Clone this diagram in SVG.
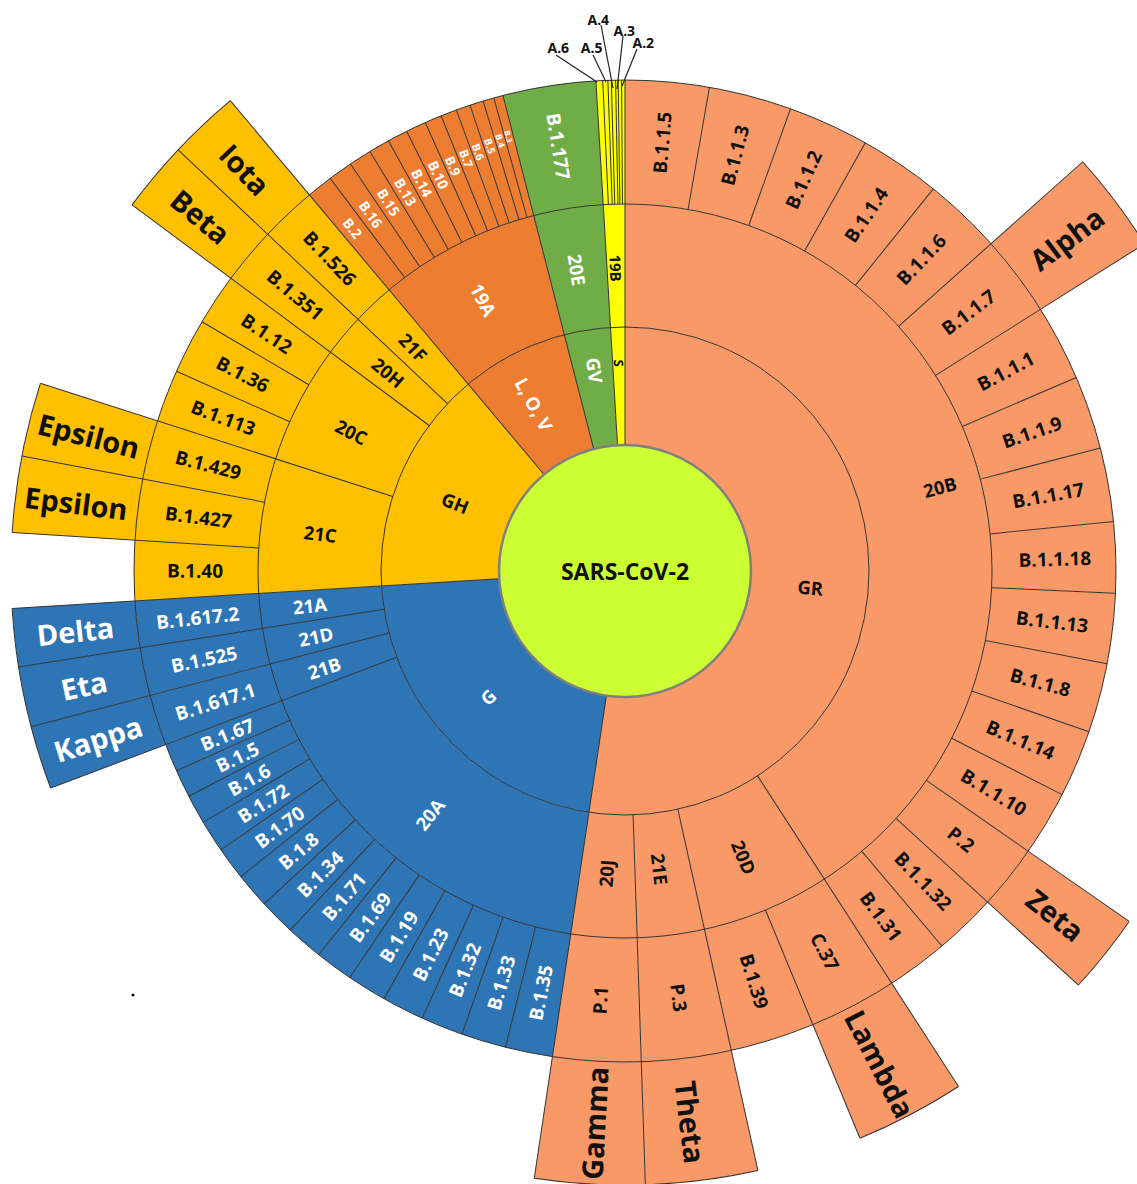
<svg xmlns="http://www.w3.org/2000/svg" width="1137" height="1184" viewBox="0 0 1137 1184">
<style>
.r1{fill:none;stroke-width:118}
.r2{fill:none;stroke-width:123}
.r3{fill:none;stroke-width:124}
.r4{fill:none;stroke-width:123}
.gr{stroke:#F89967}
.g{stroke:#2E75B6}
.gh{stroke:#FFC000}
.lov{stroke:#ED7D31}
.gv{stroke:#70AD47}
.s{stroke:#FFFF00}
.t{font-family:"Open Sans","Noto Sans","DejaVu Sans",sans-serif;font-weight:700;text-anchor:middle;dominant-baseline:central}
.k{fill:#111}
.w{fill:#fff}
.z1{font-size:18.5px}
.z3{font-size:19px}
.z4{font-size:29px}
.bd use,.bd line{stroke:#333;stroke-width:1}
.bd circle{fill:none;stroke:#333;stroke-width:1}
.ld line{stroke:#222;stroke-width:1.2}
</style>
<defs>
<line id="l1" x1="0" y1="-126" x2="0" y2="-491"/>
<line id="l1o" x1="0" y1="-126" x2="0" y2="-614"/>
<line id="l2o" x1="0" y1="-244" x2="0" y2="-614"/>
<line id="l3o" x1="0" y1="-367" x2="0" y2="-614"/>
<line id="l3" x1="0" y1="-367" x2="0" y2="-491"/>
</defs>
<rect width="1137" height="1184" fill="#fff"/>
<g transform="translate(625 571)">
<g id="ring1">
<g id="node-GR"><circle class="r1 gr" r="185" pathLength="360" stroke-dasharray="188.5 400" transform="rotate(-90)"/><text class="t k z1" transform="rotate(95) translate(0 -186) rotate(-90)">GR</text></g>
<g id="node-G"><circle class="r1 g" r="185" pathLength="360" stroke-dasharray="78 400" transform="rotate(98.5)"/><text class="t w z1" transform="rotate(227.5) translate(0 -186) rotate(90)">G</text></g>
<g id="node-GH"><circle class="r1 gh" r="185" pathLength="360" stroke-dasharray="53.5 400" transform="rotate(176.5)"/><text class="t k z1" transform="rotate(292) translate(0 -183) rotate(90)">GH</text></g>
<g id="node-LOV"><circle class="r1 lov" r="185" pathLength="360" stroke-dasharray="25.6 400" transform="rotate(230)"/><text class="t w z1" transform="rotate(331.5) translate(0 -190) rotate(90)">L, O, V</text></g>
<g id="node-GV"><circle class="r1 gv" r="185" pathLength="360" stroke-dasharray="11 400" transform="rotate(255.6)"/><text class="t w z1" transform="rotate(351.5) translate(0 -203) rotate(90)">GV</text></g>
<g id="node-S"><circle class="r1 s" r="185" pathLength="360" stroke-dasharray="3.4 400" transform="rotate(266.6)"/><text class="t k" style="font-size:13px" transform="rotate(358.3) translate(0 -208) rotate(90)">S</text></g>
</g>
<g id="ring2">
<g id="node-20B"><circle class="r2 gr" r="305.5" pathLength="360" stroke-dasharray="147.1 400" transform="rotate(-90)"/><text class="t k z1" transform="rotate(75) translate(0 -326) rotate(-90)">20B</text></g>
<g id="node-20D"><circle class="r2 gr" r="305.5" pathLength="360" stroke-dasharray="20.4 400" transform="rotate(57.1)"/><text class="t k z1" transform="rotate(157.4) translate(0 -310) rotate(-90)">20D</text></g>
<g id="node-21E"><circle class="r2 gr" r="305.5" pathLength="360" stroke-dasharray="10.6 400" transform="rotate(77.5)"/><text class="t k z1" transform="rotate(173.3) translate(0 -300) rotate(-90)">21E</text></g>
<g id="node-20J"><circle class="r2 gr" r="305.5" pathLength="360" stroke-dasharray="10.4 400" transform="rotate(88.1)"/><text class="t k z1" transform="rotate(183.6) translate(0 -303) rotate(90)">20J</text></g>
<g id="node-20A"><circle class="r2 g" r="305.5" pathLength="360" stroke-dasharray="60.8 400" transform="rotate(98.5)"/><text class="t w z1" transform="rotate(218.8) translate(0 -312) rotate(90)">20A</text></g>
<g id="node-21B"><circle class="r2 g" r="305.5" pathLength="360" stroke-dasharray="6 400" transform="rotate(159.3)"/><text class="t w z1" transform="rotate(252.2) translate(0 -316) rotate(90)">21B</text></g>
<g id="node-21D"><circle class="r2 g" r="305.5" pathLength="360" stroke-dasharray="5.7 400" transform="rotate(165.3)"/><text class="t w z1" transform="rotate(258.1) translate(0 -316) rotate(90)">21D</text></g>
<g id="node-21A"><circle class="r2 g" r="305.5" pathLength="360" stroke-dasharray="5.5 400" transform="rotate(171)"/><text class="t w z1" transform="rotate(263.8) translate(0 -317) rotate(90)">21A</text></g>
<g id="node-21C"><circle class="r2 gh" r="305.5" pathLength="360" stroke-dasharray="21.3 400" transform="rotate(176.5)"/><text class="t k z1" transform="rotate(277) translate(0 -307) rotate(90)">21C</text></g>
<g id="node-20C"><circle class="r2 gh" r="305.5" pathLength="360" stroke-dasharray="18.8 400" transform="rotate(197.8)"/><text class="t k z1" transform="rotate(297) translate(0 -307) rotate(90)">20C</text></g>
<g id="node-20H"><circle class="r2 gh" r="305.5" pathLength="360" stroke-dasharray="6.7 400" transform="rotate(216.6)"/><text class="t k z1" transform="rotate(310) translate(0 -309) rotate(90)">20H</text></g>
<g id="node-21F"><circle class="r2 gh" r="305.5" pathLength="360" stroke-dasharray="6.7 400" transform="rotate(223.3)"/><text class="t k z1" transform="rotate(316.6) translate(0 -308) rotate(90)">21F</text></g>
<g id="node-19A"><circle class="r2 lov" r="305.5" pathLength="360" stroke-dasharray="25.6 400" transform="rotate(230)"/><text class="t w z1" transform="rotate(332.5) translate(0 -306) rotate(90)">19A</text></g>
<g id="node-20E"><circle class="r2 gv" r="305.5" pathLength="360" stroke-dasharray="11 400" transform="rotate(255.6)"/><text class="t w z1" transform="rotate(351) translate(0 -305) rotate(90)">20E</text></g>
<g id="node-19B"><circle class="r2 s" r="305.5" pathLength="360" stroke-dasharray="3.4 400" transform="rotate(266.6)"/><text class="t k" style="font-size:15px" transform="rotate(358.3) translate(0 -303) rotate(90)">19B</text></g>
</g>
<g id="ring3">
<g id="node-B.1.1.5"><circle class="r3 gr" r="429" pathLength="360" stroke-dasharray="9.9 400" transform="rotate(-90)"/><text class="t k z3" transform="rotate(4.95) translate(0 -430) rotate(-90)">B.1.1.5</text></g>
<g id="node-B.1.1.3"><circle class="r3 gr" r="429" pathLength="360" stroke-dasharray="9.8 400" transform="rotate(-80.1)"/><text class="t k z3" transform="rotate(14.8) translate(0 -430) rotate(-90)">B.1.1.3</text></g>
<g id="node-B.1.1.2"><circle class="r3 gr" r="429" pathLength="360" stroke-dasharray="9.6 400" transform="rotate(-70.3)"/><text class="t k z3" transform="rotate(24.5) translate(0 -430) rotate(-90)">B.1.1.2</text></g>
<g id="node-B.1.1.4"><circle class="r3 gr" r="429" pathLength="360" stroke-dasharray="9.6 400" transform="rotate(-60.7)"/><text class="t k z3" transform="rotate(34.1) translate(0 -430) rotate(-90)">B.1.1.4</text></g>
<g id="node-B.1.1.6"><circle class="r3 gr" r="429" pathLength="360" stroke-dasharray="9.3 400" transform="rotate(-51.1)"/><text class="t k z3" transform="rotate(43.55) translate(0 -430) rotate(-90)">B.1.1.6</text></g>
<g id="node-B.1.1.7"><circle class="r3 gr" r="429" pathLength="360" stroke-dasharray="9.6 400" transform="rotate(-41.8)"/><text class="t k z3" transform="rotate(53) translate(0 -430) rotate(-90)">B.1.1.7</text></g>
<g id="node-B.1.1.1"><circle class="r3 gr" r="429" pathLength="360" stroke-dasharray="9 400" transform="rotate(-32.2)"/><text class="t k z3" transform="rotate(62.3) translate(0 -430) rotate(-90)">B.1.1.1</text></g>
<g id="node-B.1.1.9"><circle class="r3 gr" r="429" pathLength="360" stroke-dasharray="8.7 400" transform="rotate(-23.2)"/><text class="t k z3" transform="rotate(71.15) translate(0 -430) rotate(-90)">B.1.1.9</text></g>
<g id="node-B.1.1.17"><circle class="r3 gr" r="429" pathLength="360" stroke-dasharray="8.7 400" transform="rotate(-14.5)"/><text class="t k z3" transform="rotate(79.85) translate(0 -430) rotate(-90)">B.1.1.17</text></g>
<g id="node-B.1.1.18"><circle class="r3 gr" r="429" pathLength="360" stroke-dasharray="8.4 400" transform="rotate(-5.8)"/><text class="t k z3" transform="rotate(88.4) translate(0 -430) rotate(-90)">B.1.1.18</text></g>
<g id="node-B.1.1.13"><circle class="r3 gr" r="429" pathLength="360" stroke-dasharray="8.3 400" transform="rotate(2.6)"/><text class="t k z3" transform="rotate(96.75) translate(0 -430) rotate(-90)">B.1.1.13</text></g>
<g id="node-B.1.1.8"><circle class="r3 gr" r="429" pathLength="360" stroke-dasharray="8.2 400" transform="rotate(10.9)"/><text class="t k z3" transform="rotate(105) translate(0 -430) rotate(-90)">B.1.1.8</text></g>
<g id="node-B.1.1.14"><circle class="r3 gr" r="429" pathLength="360" stroke-dasharray="8 400" transform="rotate(19.1)"/><text class="t k z3" transform="rotate(113.1) translate(0 -430) rotate(-90)">B.1.1.14</text></g>
<g id="node-B.1.1.10"><circle class="r3 gr" r="429" pathLength="360" stroke-dasharray="7.7 400" transform="rotate(27.1)"/><text class="t k z3" transform="rotate(120.95) translate(0 -430) rotate(-90)">B.1.1.10</text></g>
<g id="node-P.2"><circle class="r3 gr" r="429" pathLength="360" stroke-dasharray="7.6 400" transform="rotate(34.8)"/><text class="t k z3" transform="rotate(128.6) translate(0 -430) rotate(-90)">P.2</text></g>
<g id="node-B.1.1.32"><circle class="r3 gr" r="429" pathLength="360" stroke-dasharray="7.4 400" transform="rotate(42.4)"/><text class="t k z3" transform="rotate(136.1) translate(0 -430) rotate(-90)">B.1.1.32</text></g>
<g id="node-B.1.31"><circle class="r3 gr" r="429" pathLength="360" stroke-dasharray="7.3 400" transform="rotate(49.8)"/><text class="t k z3" transform="rotate(143.45) translate(0 -430) rotate(-90)">B.1.31</text></g>
<g id="node-C.37"><circle class="r3 gr" r="429" pathLength="360" stroke-dasharray="10.4 400" transform="rotate(57.1)"/><text class="t k z3" transform="rotate(152.3) translate(0 -430) rotate(-90)">C.37</text></g>
<g id="node-B.1.39"><circle class="r3 gr" r="429" pathLength="360" stroke-dasharray="10 400" transform="rotate(67.5)"/><text class="t k z3" transform="rotate(162.5) translate(0 -430) rotate(-90)">B.1.39</text></g>
<g id="node-P.3"><circle class="r3 gr" r="429" pathLength="360" stroke-dasharray="10.6 400" transform="rotate(77.5)"/><text class="t k z3" transform="rotate(172.8) translate(0 -430) rotate(-90)">P.3</text></g>
<g id="node-P.1"><circle class="r3 gr" r="429" pathLength="360" stroke-dasharray="10.4 400" transform="rotate(88.1)"/><text class="t k z3" transform="rotate(183.3) translate(0 -430) rotate(90)">P.1</text></g>
<g id="node-B.1.35"><circle class="r3 g" r="429" pathLength="360" stroke-dasharray="5.6 400" transform="rotate(98.5)"/><text class="t w z3" transform="rotate(191.3) translate(0 -430) rotate(90)">B.1.35</text></g>
<g id="node-B.1.33"><circle class="r3 g" r="429" pathLength="360" stroke-dasharray="5.3 400" transform="rotate(104.1)"/><text class="t w z3" transform="rotate(196.75) translate(0 -430) rotate(90)">B.1.33</text></g>
<g id="node-B.1.32"><circle class="r3 g" r="429" pathLength="360" stroke-dasharray="5 400" transform="rotate(109.4)"/><text class="t w z3" transform="rotate(201.9) translate(0 -430) rotate(90)">B.1.32</text></g>
<g id="node-B.1.23"><circle class="r3 g" r="429" pathLength="360" stroke-dasharray="5 400" transform="rotate(114.4)"/><text class="t w z3" transform="rotate(206.9) translate(0 -430) rotate(90)">B.1.23</text></g>
<g id="node-B.1.19"><circle class="r3 g" r="429" pathLength="360" stroke-dasharray="4.7 400" transform="rotate(119.4)"/><text class="t w z3" transform="rotate(211.75) translate(0 -430) rotate(90)">B.1.19</text></g>
<g id="node-B.1.69"><circle class="r3 g" r="429" pathLength="360" stroke-dasharray="4.5 400" transform="rotate(124.1)"/><text class="t w z3" transform="rotate(216.35) translate(0 -430) rotate(90)">B.1.69</text></g>
<g id="node-B.1.71"><circle class="r3 g" r="429" pathLength="360" stroke-dasharray="4.4 400" transform="rotate(128.6)"/><text class="t w z3" transform="rotate(220.8) translate(0 -430) rotate(90)">B.1.71</text></g>
<g id="node-B.1.34"><circle class="r3 g" r="429" pathLength="360" stroke-dasharray="4.3 400" transform="rotate(133)"/><text class="t w z3" transform="rotate(225.15) translate(0 -430) rotate(90)">B.1.34</text></g>
<g id="node-B.1.8"><circle class="r3 g" r="429" pathLength="360" stroke-dasharray="4.2 400" transform="rotate(137.3)"/><text class="t w z3" transform="rotate(229.4) translate(0 -430) rotate(90)">B.1.8</text></g>
<g id="node-B.1.70"><circle class="r3 g" r="429" pathLength="360" stroke-dasharray="3.9 400" transform="rotate(141.5)"/><text class="t w z3" transform="rotate(233.45) translate(0 -430) rotate(90)">B.1.70</text></g>
<g id="node-B.1.72"><circle class="r3 g" r="429" pathLength="360" stroke-dasharray="3.8 400" transform="rotate(145.4)"/><text class="t w z3" transform="rotate(237.3) translate(0 -430) rotate(90)">B.1.72</text></g>
<g id="node-B.1.6"><circle class="r3 g" r="429" pathLength="360" stroke-dasharray="3.5 400" transform="rotate(149.2)"/><text class="t w z3" transform="rotate(240.95) translate(0 -430) rotate(90)">B.1.6</text></g>
<g id="node-B.1.5"><circle class="r3 g" r="429" pathLength="360" stroke-dasharray="3.3 400" transform="rotate(152.7)"/><text class="t w z3" transform="rotate(244.35) translate(0 -430) rotate(90)">B.1.5</text></g>
<g id="node-B.1.67"><circle class="r3 g" r="429" pathLength="360" stroke-dasharray="3.3 400" transform="rotate(156)"/><text class="t w z3" transform="rotate(247.65) translate(0 -430) rotate(90)">B.1.67</text></g>
<g id="node-B.1.617.1"><circle class="r3 g" r="429" pathLength="360" stroke-dasharray="6 400" transform="rotate(159.3)"/><text class="t w z3" transform="rotate(252.3) translate(0 -430) rotate(90)">B.1.617.1</text></g>
<g id="node-B.1.525"><circle class="r3 g" r="429" pathLength="360" stroke-dasharray="5.7 400" transform="rotate(165.3)"/><text class="t w z3" transform="rotate(258.15) translate(0 -430) rotate(90)">B.1.525</text></g>
<g id="node-B.1.617.2"><circle class="r3 g" r="429" pathLength="360" stroke-dasharray="5.5 400" transform="rotate(171)"/><text class="t w z3" transform="rotate(263.75) translate(0 -430) rotate(90)">B.1.617.2</text></g>
<g id="node-B.1.40"><circle class="r3 gh" r="429" pathLength="360" stroke-dasharray="7.1 400" transform="rotate(176.5)"/><text class="t k z3" transform="rotate(270.05) translate(0 -430) rotate(90)">B.1.40</text></g>
<g id="node-B.1.427"><circle class="r3 gh" r="429" pathLength="360" stroke-dasharray="7.2 400" transform="rotate(183.6)"/><text class="t k z3" transform="rotate(277.2) translate(0 -430) rotate(90)">B.1.427</text></g>
<g id="node-B.1.429"><circle class="r3 gh" r="429" pathLength="360" stroke-dasharray="7 400" transform="rotate(190.8)"/><text class="t k z3" transform="rotate(284.3) translate(0 -430) rotate(90)">B.1.429</text></g>
<g id="node-B.1.113"><circle class="r3 gh" r="429" pathLength="360" stroke-dasharray="6.2 400" transform="rotate(197.8)"/><text class="t k z3" transform="rotate(290.9) translate(0 -430) rotate(90)">B.1.113</text></g>
<g id="node-B.1.36"><circle class="r3 gh" r="429" pathLength="360" stroke-dasharray="6.5 400" transform="rotate(204)"/><text class="t k z3" transform="rotate(297.25) translate(0 -430) rotate(90)">B.1.36</text></g>
<g id="node-B.1.12"><circle class="r3 gh" r="429" pathLength="360" stroke-dasharray="6.1 400" transform="rotate(210.5)"/><text class="t k z3" transform="rotate(303.55) translate(0 -430) rotate(90)">B.1.12</text></g>
<g id="node-B.1.351"><circle class="r3 gh" r="429" pathLength="360" stroke-dasharray="6.7 400" transform="rotate(216.6)"/><text class="t k z3" transform="rotate(309.95) translate(0 -430) rotate(90)">B.1.351</text></g>
<g id="node-B.1.526"><circle class="r3 gh" r="429" pathLength="360" stroke-dasharray="6.7 400" transform="rotate(223.3)"/><text class="t k z3" transform="rotate(316.65) translate(0 -430) rotate(90)">B.1.526</text></g>
<g id="node-B.2"><circle class="r3 lov" r="429" pathLength="360" stroke-dasharray="3.1 400" transform="rotate(230)"/><text class="t w" style="font-size:14px" transform="rotate(321.55) translate(0 -438) rotate(90)">B.2</text></g>
<g id="node-B.16"><circle class="r3 lov" r="429" pathLength="360" stroke-dasharray="2.9 400" transform="rotate(233.1)"/><text class="t w" style="font-size:14px" transform="rotate(324.55) translate(0 -438) rotate(90)">B.16</text></g>
<g id="node-B.15"><circle class="r3 lov" r="429" pathLength="360" stroke-dasharray="2.7 400" transform="rotate(236)"/><text class="t w" style="font-size:14px" transform="rotate(327.35) translate(0 -438) rotate(90)">B.15</text></g>
<g id="node-B.13"><circle class="r3 lov" r="429" pathLength="360" stroke-dasharray="2.5 400" transform="rotate(238.7)"/><text class="t w" style="font-size:14px" transform="rotate(329.95) translate(0 -438) rotate(90)">B.13</text></g>
<g id="node-B.14"><circle class="r3 lov" r="429" pathLength="360" stroke-dasharray="2.4 400" transform="rotate(241.2)"/><text class="t w" style="font-size:14px" transform="rotate(332.4) translate(0 -438) rotate(90)">B.14</text></g>
<g id="node-B.10"><circle class="r3 lov" r="429" pathLength="360" stroke-dasharray="2.4 400" transform="rotate(243.6)"/><text class="t w" style="font-size:14px" transform="rotate(334.8) translate(0 -438) rotate(90)">B.10</text></g>
<g id="node-B.9"><circle class="r3 lov" r="429" pathLength="360" stroke-dasharray="2 400" transform="rotate(246)"/><text class="t w" style="font-size:13px" transform="rotate(337) translate(0 -440) rotate(90)">B.9</text></g>
<g id="node-B.7"><circle class="r3 lov" r="429" pathLength="360" stroke-dasharray="1.9 400" transform="rotate(248)"/><text class="t w" style="font-size:12px" transform="rotate(338.95) translate(0 -442) rotate(90)">B.7</text></g>
<g id="node-B.6"><circle class="r3 lov" r="429" pathLength="360" stroke-dasharray="1.7 400" transform="rotate(249.9)"/><text class="t w" style="font-size:11px" transform="rotate(340.75) translate(0 -444) rotate(90)">B.6</text></g>
<g id="node-B.5"><circle class="r3 lov" r="429" pathLength="360" stroke-dasharray="1.6 400" transform="rotate(251.6)"/><text class="t w" style="font-size:10px" transform="rotate(342.4) translate(0 -446) rotate(90)">B.5</text></g>
<g id="node-B.4"><circle class="r3 lov" r="429" pathLength="360" stroke-dasharray="1.3 400" transform="rotate(253.2)"/><text class="t w" style="font-size:9px" transform="rotate(343.85) translate(0 -448) rotate(90)">B.4</text></g>
<g id="node-B.3"><circle class="r3 lov" r="429" pathLength="360" stroke-dasharray="1.1 400" transform="rotate(254.5)"/><text class="t w" style="font-size:8px" transform="rotate(345.05) translate(0 -450) rotate(90)">B.3</text></g>
<g id="node-B.1.177"><circle class="r3 gv" r="429" pathLength="360" stroke-dasharray="11 400" transform="rotate(255.6)"/><text class="t w z3" transform="rotate(351.1) translate(0 -430) rotate(90)">B.1.177</text></g>
<g id="node-A.6"><circle class="r3 s" r="429" pathLength="360" stroke-dasharray="0.8 400" transform="rotate(266.6)"/><text class="t k" style="font-size:14px" transform="translate(-66.7 -523.3)">A.6</text></g>
<g id="node-A.5"><circle class="r3 s" r="429" pathLength="360" stroke-dasharray="0.6 400" transform="rotate(267.4)"/><text class="t k" style="font-size:14px" transform="translate(-33.3 -523.3)">A.5</text></g>
<g id="node-A-x1"><circle class="r3 s" r="429" pathLength="360" stroke-dasharray="0.4 400" transform="rotate(268)"/></g>
<g id="node-A.4"><circle class="r3 s" r="429" pathLength="360" stroke-dasharray="0.5 400" transform="rotate(268.4)"/><text class="t k" style="font-size:14px" transform="translate(-26.7 -551.7)">A.4</text></g>
<g id="node-A.3"><circle class="r3 s" r="429" pathLength="360" stroke-dasharray="0.3 400" transform="rotate(268.9)"/><text class="t k" style="font-size:14px" transform="translate(-0.7 -540.3)">A.3</text></g>
<g id="node-A-x2"><circle class="r3 s" r="429" pathLength="360" stroke-dasharray="0.4 400" transform="rotate(269.2)"/></g>
<g id="node-A.2"><circle class="r3 s" r="429" pathLength="360" stroke-dasharray="0.4 400" transform="rotate(269.6)"/><text class="t k" style="font-size:14px" transform="translate(18.3 -528.3)">A.2</text></g>
</g>
<g id="ring4">
<g id="node-Alpha"><circle class="r4 gr" r="552.5" pathLength="360" stroke-dasharray="9.6 400" transform="rotate(-41.8)"/><text class="t k z4" transform="rotate(53) translate(0 -553) rotate(-90)">Alpha</text></g>
<g id="node-Zeta"><circle class="r4 gr" r="552.5" pathLength="360" stroke-dasharray="7.6 400" transform="rotate(34.8)"/><text class="t k z4" transform="rotate(128.6) translate(0 -551) rotate(-90)">Zeta</text></g>
<g id="node-Lambda"><circle class="r4 gr" r="552.5" pathLength="360" stroke-dasharray="10.4 400" transform="rotate(57.1)"/><text class="t k z4" transform="rotate(152.6) translate(0 -555) rotate(-90)">Lambda</text></g>
<g id="node-Theta"><circle class="r4 gr" r="552.5" pathLength="360" stroke-dasharray="10.6 400" transform="rotate(77.5)"/><text class="t k z4" transform="rotate(173.2) translate(0 -555) rotate(-90)">Theta</text></g>
<g id="node-Gamma"><circle class="r4 gr" r="552.5" pathLength="360" stroke-dasharray="10.4 400" transform="rotate(88.1)"/><text class="t k z4" transform="rotate(183.2) translate(0 -553) rotate(90)">Gamma</text></g>
<g id="node-Kappa"><circle class="r4 g" r="552.5" pathLength="360" stroke-dasharray="6 400" transform="rotate(159.3)"/><text class="t w z4" transform="rotate(252.4) translate(0 -553) rotate(90)">Kappa</text></g>
<g id="node-Eta"><circle class="r4 g" r="552.5" pathLength="360" stroke-dasharray="5.7 400" transform="rotate(165.3)"/><text class="t w z4" transform="rotate(258.1) translate(0 -553) rotate(90)">Eta</text></g>
<g id="node-Delta"><circle class="r4 g" r="552.5" pathLength="360" stroke-dasharray="5.5 400" transform="rotate(171)"/><text class="t w z4" transform="rotate(263.8) translate(0 -553) rotate(90)">Delta</text></g>
<g id="node-Epsilon-1"><circle class="r4 gh" r="552.5" pathLength="360" stroke-dasharray="7.2 400" transform="rotate(183.6)"/><text class="t k z4" transform="rotate(277.1) translate(0 -553) rotate(90)">Epsilon</text></g>
<g id="node-Epsilon-2"><circle class="r4 gh" r="552.5" pathLength="360" stroke-dasharray="7 400" transform="rotate(190.8)"/><text class="t k z4" transform="rotate(284.2) translate(0 -553) rotate(90)">Epsilon</text></g>
<g id="node-Beta"><circle class="r4 gh" r="552.5" pathLength="360" stroke-dasharray="6.7 400" transform="rotate(216.6)"/><text class="t k z4" transform="rotate(309.9) translate(0 -553) rotate(90)">Beta</text></g>
<g id="node-Iota"><circle class="r4 gh" r="552.5" pathLength="360" stroke-dasharray="6.7 400" transform="rotate(223.3)"/><text class="t k z4" transform="rotate(316.6) translate(0 -553) rotate(90)">Iota</text></g>
</g>
<g id="borders" class="bd">
<circle r="244"/><circle r="367"/><circle r="491"/>
<circle r="614" pathLength="360" stroke-dasharray="9.6 400" transform="rotate(-41.8)"/>
<circle r="614" pathLength="360" stroke-dasharray="7.6 400" transform="rotate(34.8)"/>
<circle r="614" pathLength="360" stroke-dasharray="10.4 400" transform="rotate(57.1)"/>
<circle r="614" pathLength="360" stroke-dasharray="21 400" transform="rotate(77.5)"/>
<circle r="614" pathLength="360" stroke-dasharray="17.2 400" transform="rotate(159.3)"/>
<circle r="614" pathLength="360" stroke-dasharray="14.2 400" transform="rotate(183.6)"/>
<circle r="614" pathLength="360" stroke-dasharray="13.4 400" transform="rotate(216.6)"/>
<use href="#l1"/><use href="#l1" transform="rotate(345.6)"/><use href="#l1" transform="rotate(356.6)"/>
<use href="#l1o" transform="rotate(188.5)"/><use href="#l1o" transform="rotate(266.5)"/><use href="#l1o" transform="rotate(320)"/>
<use href="#l2o" transform="rotate(147.1)"/><use href="#l2o" transform="rotate(167.5)"/><use href="#l2o" transform="rotate(178.1)"/><use href="#l2o" transform="rotate(249.3)"/><use href="#l2o" transform="rotate(255.3)"/><use href="#l2o" transform="rotate(261)"/><use href="#l2o" transform="rotate(287.8)"/><use href="#l2o" transform="rotate(306.6)"/><use href="#l2o" transform="rotate(313.3)"/>
<use href="#l3o" transform="rotate(48.2)"/><use href="#l3o" transform="rotate(57.8)"/><use href="#l3o" transform="rotate(124.8)"/><use href="#l3o" transform="rotate(132.4)"/><use href="#l3o" transform="rotate(157.5)"/><use href="#l3o" transform="rotate(273.6)"/><use href="#l3o" transform="rotate(280.8)"/>
<use href="#l3" transform="rotate(9.9)"/><use href="#l3" transform="rotate(19.7)"/><use href="#l3" transform="rotate(29.3)"/><use href="#l3" transform="rotate(38.9)"/><use href="#l3" transform="rotate(66.8)"/><use href="#l3" transform="rotate(75.5)"/><use href="#l3" transform="rotate(84.2)"/><use href="#l3" transform="rotate(92.6)"/><use href="#l3" transform="rotate(100.9)"/><use href="#l3" transform="rotate(109.1)"/><use href="#l3" transform="rotate(117.1)"/><use href="#l3" transform="rotate(139.8)"/>
<use href="#l3" transform="rotate(194.1)"/><use href="#l3" transform="rotate(199.4)"/><use href="#l3" transform="rotate(204.4)"/><use href="#l3" transform="rotate(209.4)"/><use href="#l3" transform="rotate(214.1)"/><use href="#l3" transform="rotate(218.6)"/><use href="#l3" transform="rotate(223)"/><use href="#l3" transform="rotate(227.3)"/><use href="#l3" transform="rotate(231.5)"/><use href="#l3" transform="rotate(235.4)"/><use href="#l3" transform="rotate(239.2)"/><use href="#l3" transform="rotate(242.7)"/><use href="#l3" transform="rotate(246)"/>
<use href="#l3" transform="rotate(294)"/><use href="#l3" transform="rotate(300.5)"/>
<use href="#l3" transform="rotate(323.1)"/><use href="#l3" transform="rotate(326)"/><use href="#l3" transform="rotate(328.7)"/><use href="#l3" transform="rotate(331.2)"/><use href="#l3" transform="rotate(333.6)"/><use href="#l3" transform="rotate(336)"/><use href="#l3" transform="rotate(338)"/><use href="#l3" transform="rotate(339.9)"/><use href="#l3" transform="rotate(341.6)"/><use href="#l3" transform="rotate(343.2)"/><use href="#l3" transform="rotate(344.5)"/>
<use href="#l3" transform="rotate(357.4)"/><use href="#l3" transform="rotate(358)"/><use href="#l3" transform="rotate(358.4)"/><use href="#l3" transform="rotate(358.9)"/><use href="#l3" transform="rotate(359.2)"/><use href="#l3" transform="rotate(359.6)"/>
</g>
<g id="node-SARS-CoV-2"><circle r="126" fill="#CCFF33" stroke="#7F7F7F" stroke-width="2.5"/><text class="t k" style="font-size:23px">SARS-CoV-2</text></g>
<g id="connectors" class="ld">
<line x1="-69" y1="-516" x2="-28" y2="-489"/>
<line x1="-32" y1="-516" x2="-19" y2="-489"/>
<line x1="-24" y1="-546" x2="-12" y2="-483"/>
<line x1="-2" y1="-535" x2="-8" y2="-482"/>
<line x1="12" y1="-522" x2="-3" y2="-485"/>
</g>
</g>
<circle cx="133" cy="995" r="1.6" fill="#111"/>
</svg>
